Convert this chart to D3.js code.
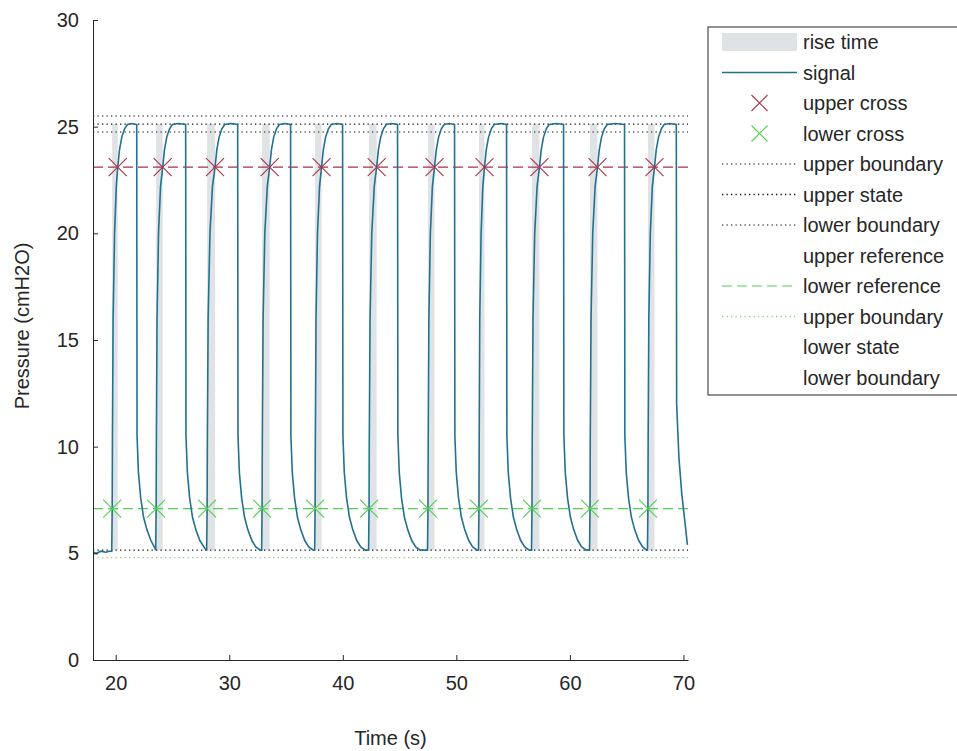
<!DOCTYPE html>
<html>
<head>
<meta charset="utf-8">
<script src="https://cdn.jsdelivr.net/npm/d3@7"></script>
<style>
  body { margin: 0; background: #fff; }
  text { font-family: "Liberation Sans", Arial, sans-serif; fill: #262626; }
</style>
</head>
<body>
<div id="chart"></div>
<script>
// values
const xTicks = [20, 30, 40, 50, 60, 70];
const yTicks = [0, 5, 10, 15, 20, 25, 30];

const upperCrossTimes = [20.18, 24.14, 28.75, 33.56, 38.13, 42.98, 48.08, 52.48, 57.32, 62.43, 67.45];
const lowerCrossTimes = [19.69, 23.56, 28.05, 32.89, 37.56, 42.31, 47.50, 51.99, 56.66, 61.77, 66.87];

const upperReference = 23.1;
const lowerReference = 7.1;
const upperStateHigh = 25.5;
const upperState = 25.12;
const upperStateLow = 24.75;
const lowerState = 5.15;
const lowerStateLow = 4.8;

const legendLabels = ["rise time", "signal", "upper cross", "lower cross", "upper boundary", "upper state",
  "lower boundary", "upper reference", "lower reference", "upper boundary", "lower state", "lower boundary"];

// [time (s), pressure (cmH2O)]
const signal = [
  [18.0, 5.05], [18.3, 5.0], [18.7, 5.1], [19.1, 5.05], [19.45, 5.1],
  [19.65, 5.1], [19.69, 7.1], [19.71, 10.2], [19.77, 16], [19.90, 20], [20.05, 22.2], [20.18, 23.1], [20.33, 23.9], [20.53, 24.5], [20.78, 24.9], [21.03, 25.1], [21.40, 25.15], [21.85, 25.1],
  [21.88, 10.5], [22.00, 8.8], [22.20, 7.6], [22.45, 6.7], [22.75, 6.1], [23.10, 5.6], [23.45, 5.25],
  [23.52, 5.15], [23.56, 7.1], [23.58, 10.2], [23.64, 16], [23.77, 20], [23.95, 22.2], [24.14, 23.1], [24.29, 23.9], [24.49, 24.5], [24.74, 24.9], [24.99, 25.1], [25.50, 25.15], [26.16, 25.1],
  [26.19, 10.5], [26.31, 8.8], [26.51, 7.6], [26.76, 6.7], [27.06, 6.1], [27.41, 5.6], [27.76, 5.3], [27.95, 5.15],
  [28.01, 5.15], [28.05, 7.1], [28.07, 10.2], [28.14, 16], [28.30, 20], [28.52, 22.2], [28.75, 23.1], [28.90, 23.9], [29.10, 24.5], [29.35, 24.9], [29.60, 25.1], [30.10, 25.15], [30.74, 25.1],
  [30.77, 10.5], [30.89, 8.8], [31.09, 7.6], [31.34, 6.7], [31.64, 6.1], [31.99, 5.6], [32.34, 5.3], [32.74, 5.15],
  [32.85, 5.15], [32.89, 7.1], [32.91, 10.2], [32.98, 16], [33.13, 20], [33.35, 22.2], [33.56, 23.1], [33.71, 23.9], [33.91, 24.5], [34.16, 24.9], [34.41, 25.1], [34.90, 25.15], [35.40, 25.1],
  [35.43, 10.5], [35.55, 8.8], [35.75, 7.6], [36.00, 6.7], [36.30, 6.1], [36.65, 5.6], [37.00, 5.3], [37.40, 5.15],
  [37.52, 5.15], [37.56, 7.1], [37.58, 10.2], [37.64, 16], [37.77, 20], [37.95, 22.2], [38.13, 23.1], [38.28, 23.9], [38.48, 24.5], [38.73, 24.9], [38.98, 25.1], [39.50, 25.15], [39.98, 25.1],
  [40.01, 10.5], [40.13, 8.8], [40.33, 7.6], [40.58, 6.7], [40.88, 6.1], [41.23, 5.6], [41.58, 5.3], [41.98, 5.15],
  [42.27, 5.15], [42.31, 7.1], [42.33, 10.2], [42.40, 16], [42.55, 20], [42.77, 22.2], [42.98, 23.1], [43.13, 23.9], [43.33, 24.5], [43.58, 24.9], [43.83, 25.1], [44.30, 25.15], [44.82, 25.1],
  [44.85, 10.5], [44.97, 8.8], [45.17, 7.6], [45.42, 6.7], [45.72, 6.1], [46.07, 5.6], [46.42, 5.3], [46.82, 5.15],
  [47.46, 5.15], [47.50, 7.1], [47.52, 10.2], [47.58, 16], [47.71, 20], [47.89, 22.2], [48.08, 23.1], [48.23, 23.9], [48.43, 24.5], [48.68, 24.9], [48.93, 25.1], [49.40, 25.15], [49.84, 25.1],
  [49.87, 10.5], [49.99, 8.8], [50.19, 7.6], [50.44, 6.7], [50.74, 6.1], [51.09, 5.6], [51.44, 5.3], [51.84, 5.15],
  [51.95, 5.15], [51.99, 7.1], [52.01, 10.2], [52.06, 16], [52.18, 20], [52.33, 22.2], [52.48, 23.1], [52.63, 23.9], [52.83, 24.5], [53.08, 24.9], [53.33, 25.1], [53.90, 25.15], [54.42, 25.1],
  [54.45, 10.5], [54.57, 8.8], [54.77, 7.6], [55.02, 6.7], [55.32, 6.1], [55.67, 5.6], [56.02, 5.3], [56.42, 5.15],
  [56.62, 5.15], [56.66, 7.1], [56.68, 10.2], [56.75, 16], [56.90, 20], [57.11, 22.2], [57.32, 23.1], [57.47, 23.9], [57.67, 24.5], [57.92, 24.9], [58.17, 25.1], [58.80, 25.15], [59.44, 25.1],
  [59.47, 10.5], [59.59, 8.8], [59.79, 7.6], [60.04, 6.7], [60.34, 6.1], [60.69, 5.6], [61.04, 5.3], [61.44, 5.15],
  [61.73, 5.15], [61.77, 7.1], [61.79, 10.2], [61.86, 16], [62.01, 20], [62.22, 22.2], [62.43, 23.1], [62.58, 23.9], [62.78, 24.5], [63.03, 24.9], [63.28, 25.1], [64.00, 25.15], [64.81, 25.1],
  [64.84, 10.5], [64.96, 8.8], [65.16, 7.6], [65.41, 6.7], [65.71, 6.1], [66.06, 5.6], [66.41, 5.3], [66.75, 5.15],
  [66.83, 5.15], [66.87, 7.1], [66.89, 10.2], [66.95, 16], [67.08, 20], [67.26, 22.2], [67.45, 23.1], [67.60, 23.9], [67.80, 24.5], [68.05, 24.9], [68.30, 25.1], [68.80, 25.15], [69.37, 25.1],
  [69.40, 12], [69.60, 9.5], [69.85, 7.8], [70.10, 6.6], [70.35, 5.4]
];

const width = 957, height = 751;
const margin = { top: 20, right: 269, bottom: 91, left: 93 };
const innerWidth = width - margin.left - margin.right;
const innerHeight = height - margin.top - margin.bottom;

const signalColor = "#24708f";
const upperColor = "#a8334a";
const lowerColor = "#52cf52";
const axisColor = "#262626";

const svg = d3.select("#chart").append("svg").attr("width", width).attr("height", height);
const chart = svg.append("g").attr("transform", `translate(${margin.left},${margin.top})`);

const x = d3.scaleLinear().domain([18, 70.4]).range([0, innerWidth]);
const y = d3.scaleLinear().domain([0, 30]).range([innerHeight, 0]);

// rise time patches
chart.selectAll(".rise").data(lowerCrossTimes).enter().append("rect")
  .attr("x", (d) => x(d)).attr("width", (d, i) => x(upperCrossTimes[i]) - x(d))
  .attr("y", y(upperState)).attr("height", y(lowerState) - y(upperState))
  .attr("fill", "#dfe3e6");

// state levels and boundaries
const hLine = (v, color, dash, w) => chart.append("line")
  .attr("x1", 0).attr("x2", innerWidth).attr("y1", y(v)).attr("y2", y(v))
  .attr("stroke", color).attr("stroke-width", w || 1.3).attr("stroke-dasharray", dash);

hLine(upperStateHigh, "#5a5a66", "1.3,3.2");
hLine(upperState, "#111", "1.3,3.2");
hLine(upperStateLow, "#5a5a66", "1.3,3.2");
hLine(lowerState, "#111", "1.3,3.2");
hLine(lowerStateLow, "#8fcf8f", "1.3,3.2");
hLine(upperReference, upperColor, "10,5", 1.2);
hLine(lowerReference, lowerColor, "10,5", 1.2);

// signal
const line = d3.line().x((d) => x(d[0])).y((d) => y(d[1]));
chart.append("path").datum(signal)
  .attr("fill", "none").attr("stroke", signalColor).attr("stroke-width", 1.6).attr("d", line);

// crosses
const cross = (s) => `M${-s},${-s}L${s},${s}M${-s},${s}L${s},${-s}`;
chart.selectAll(".ucross").data(upperCrossTimes).enter().append("path")
  .attr("transform", (d) => `translate(${x(d)},${y(upperReference)})`)
  .attr("d", cross(9)).attr("stroke", upperColor).attr("stroke-width", 1.1).attr("fill", "none");
chart.selectAll(".lcross").data(lowerCrossTimes).enter().append("path")
  .attr("transform", (d) => `translate(${x(d)},${y(lowerReference)})`)
  .attr("d", cross(9)).attr("stroke", lowerColor).attr("stroke-width", 1.1).attr("fill", "none");

// axes
const xAxis = chart.append("g").attr("transform", `translate(0,${innerHeight})`)
  .call(d3.axisBottom(x).tickValues(xTicks).tickSizeInner(-5).tickSizeOuter(0).tickPadding(16));
const yAxis = chart.append("g")
  .call(d3.axisLeft(y).tickValues(yTicks).tickSizeInner(-5).tickSizeOuter(0).tickPadding(14));
[xAxis, yAxis].forEach((g) => {
  g.select(".domain").attr("stroke", axisColor);
  g.selectAll("line").attr("stroke", axisColor);
  g.selectAll("text").style("font-size", "20px").style("fill", axisColor);
});

svg.append("text").attr("x", margin.left + innerWidth / 2).attr("y", 745)
  .attr("text-anchor", "middle").style("font-size", "20px").text("Time (s)");
svg.append("text").attr("transform", "translate(29,326) rotate(-90)")
  .attr("text-anchor", "middle").style("font-size", "20px").text("Pressure (cmH2O)");

// legend
const legend = svg.append("g");
legend.append("rect").attr("x", 708).attr("y", 27).attr("width", 270).attr("height", 368)
  .attr("fill", "#fff").attr("stroke", axisColor).attr("stroke-width", 1);

const rowY = (i) => 42 + i * 30.5;
const sx1 = 722, sx2 = 797;
legendLabels.forEach((label, i) => {
  legend.append("text").attr("x", 803).attr("y", rowY(i) + 7).style("font-size", "20px").text(label);
});
legend.append("rect").attr("x", sx1).attr("y", rowY(0) - 9).attr("width", sx2 - sx1).attr("height", 18).attr("fill", "#dfe3e6");
const legLine = (i, color, dash, w) => legend.append("line").attr("x1", sx1).attr("x2", sx2)
  .attr("y1", rowY(i)).attr("y2", rowY(i)).attr("stroke", color).attr("stroke-width", w || 1.3).attr("stroke-dasharray", dash);
legLine(1, signalColor, null, 1.6);
legend.append("path").attr("transform", `translate(${(sx1 + sx2) / 2},${rowY(2)})`).attr("d", cross(8))
  .attr("stroke", upperColor).attr("stroke-width", 1.1);
legend.append("path").attr("transform", `translate(${(sx1 + sx2) / 2},${rowY(3)})`).attr("d", cross(8))
  .attr("stroke", lowerColor).attr("stroke-width", 1.1);
legLine(4, "#5a5a66", "1.3,3.2");
legLine(5, "#111", "1.3,3.2");
legLine(6, "#5a5a66", "1.3,3.2");
legLine(8, lowerColor, "10,5", 1.2);
legLine(9, "#8fcf8f", "1.3,3.2");
</script>
</body>
</html>
